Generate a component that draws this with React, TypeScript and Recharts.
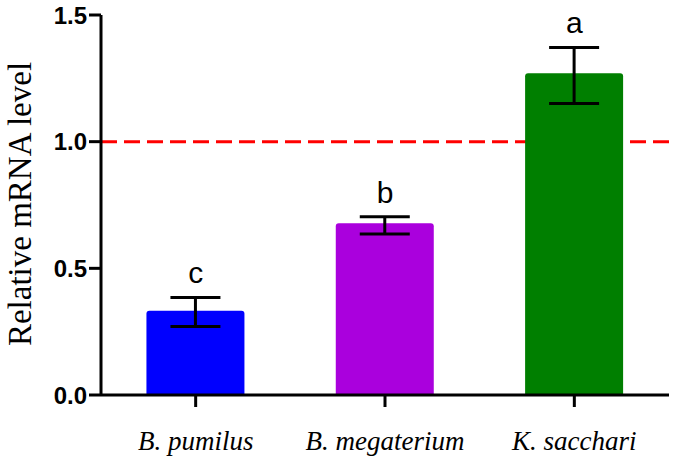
import {
  ComposedChart, Bar, Line, XAxis, YAxis, ErrorBar, ReferenceLine, LabelList, Label, Cell
} from 'recharts';

const species = ['B. pumilus', 'B. megaterium', 'K. sacchari'];
const means = [0.333, 0.678, 1.27];
const errLow = [0.063, 0.042, 0.119];
const errHigh = [0.052, 0.026, 0.102];
const letters = ['c', 'b', 'a'];
const colors = ['#0000ff', '#aa00dd', '#007f00'];
const yTicks = [0, 0.5, 1, 1.5];

const data = species.map((name, i) => ({
  name,
  mean: means[i],
  err: [errLow[i], errHigh[i]],
  top: means[i] + errHigh[i],
  letter: letters[i],
}));

const YTitle = () => (
  <text
    x={31}
    y={204}
    transform="rotate(-90, 31, 204)"
    textAnchor="middle"
    fontFamily="'Liberation Serif', 'Times New Roman', serif"
    fontSize={33}
    fill="#000"
  >
    Relative mRNA level
  </text>
);

const App = () => {
  return (
    <div style={{ position: 'absolute', left: 0, top: 0, width: 675, height: 462, background: '#fff' }}>
      <ComposedChart
        width={675}
        height={462}
        data={data}
        margin={{ top: 15, right: 6, bottom: 0, left: 0 }}
        barCategoryGap="24%"
      >
        <XAxis
          dataKey="name"
          interval={0}
          height={67}
          tickSize={12}
          tickMargin={24}
          axisLine={{ stroke: '#000', strokeWidth: 3 }}
          tickLine={{ stroke: '#000', strokeWidth: 3 }}
          tick={{
            fill: '#000',
            fontSize: 27,
            fontStyle: 'italic',
            fontFamily: "'Liberation Serif', 'Times New Roman', serif",
          }}
        />
        <YAxis
          width={101}
          domain={[0, 1.5]}
          ticks={yTicks}
          tickFormatter={(v: number) => v.toFixed(1)}
          tickSize={12}
          tickMargin={2}
          axisLine={{ stroke: '#000', strokeWidth: 3 }}
          tickLine={{ stroke: '#000', strokeWidth: 3 }}
          tick={{
            fill: '#000',
            fontSize: 24,
            fontWeight: 'bold',
            fontFamily: "'Liberation Sans', Arial, sans-serif",
          }}
        >
          <Label content={<YTitle />} />
        </YAxis>
        <ReferenceLine
          y={1}
          stroke="#ff0000"
          strokeWidth={3}
          strokeDasharray="16 7"
          zIndex={250}
        />
        <Bar dataKey="mean" radius={[3, 3, 0, 0]} isAnimationActive={false}>
          {data.map((d, i) => (
            <Cell key={d.name} fill={colors[i]} />
          ))}
          <ErrorBar dataKey="err" direction="y" width={25} stroke="#000" strokeWidth={3} />
        </Bar>
        <Line
          dataKey="top"
          stroke="none"
          dot={false}
          activeDot={false}
          isAnimationActive={false}
        >
          <LabelList
            dataKey="letter"
            position="top"
            offset={14}
            fill="#000"
            fontSize={30}
            fontFamily="'Liberation Sans', Arial, sans-serif"
          />
        </Line>
      </ComposedChart>
    </div>
  );
};

export default App;
